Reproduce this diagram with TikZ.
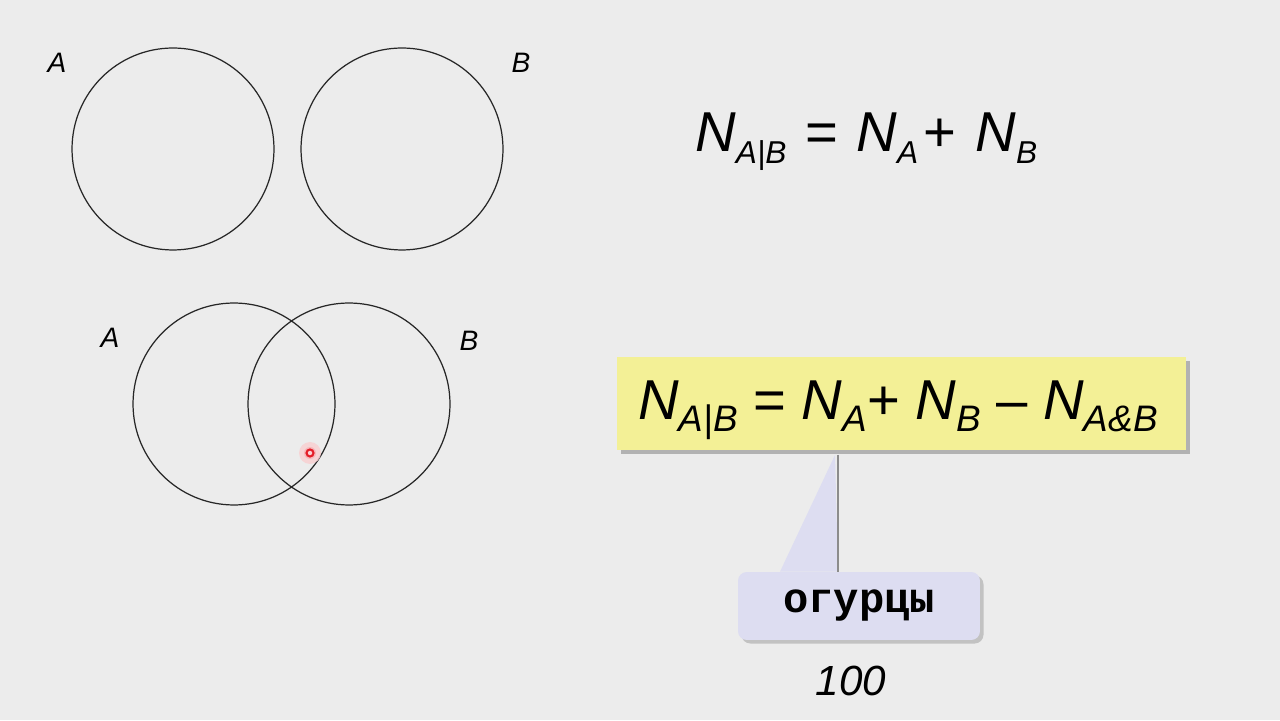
\documentclass[tikz,border=0pt]{standalone}
\usepackage{fontspec}
\setmainfont{Liberation Sans}
\newfontfamily\monofont{Liberation Mono}
\usetikzlibrary{positioning,shadows,calc}
\definecolor{bggray}{RGB}{236,236,236}
\definecolor{noteyellow}{RGB}{243,240,150}
\definecolor{calloutlilac}{RGB}{221,221,241}
\definecolor{dotred}{RGB}{228,30,40}
% N with a lowered italic subscript; optional argument = subscript size in pt
\newcommand{\Nsub}[2][18]{\textit{N}\raisebox{-6.8pt}{\fontsize{#1}{#1}\selectfont\textit{#2}}}
\begin{document}
\begin{tikzpicture}[
    x=0.02cm, y=0.02cm,
    set/.style={draw=black!85, line width=0.7pt},
    setlabel/.style={font=\fontsize{16}{18}\selectfont\itshape, inner sep=0pt},
    formula/.style={font=\fontsize{32}{36}\selectfont, inner sep=0pt},
    note/.style={rectangle, fill=noteyellow, minimum width=11.38cm, minimum height=1.86cm,
        drop shadow={shadow xshift=2.5pt, shadow yshift=-2.5pt, fill=black!45, opacity=0.6}},
    callout/.style={rectangle, fill=calloutlilac, rounded corners=5pt, minimum width=4.84cm, minimum height=1.36cm,
        font=\monofont\bfseries\fontsize{24}{26}\selectfont,
        drop shadow={shadow xshift=2pt, shadow yshift=-2pt, fill=black!35, opacity=0.6}},
]
\useasboundingbox[fill=bggray] (0,0) rectangle (1280,720);

% disjoint sets
\draw[set] (173,571) circle[radius=2.02cm];
\draw[set] (402,571) circle[radius=2.02cm];
\node[setlabel] (la1) at (57,657) {A};
\node[setlabel] (lb1) at (521,657) {B};

% overlapping sets
\draw[set] (234,316) circle[radius=2.02cm];
\draw[set] (349,316) circle[radius=2.02cm];
\node[setlabel] (la2) at (110,382) {A};
\node[setlabel] (lb2) at (469,379) {B};

% pointer dot
\fill[dotred!22, opacity=0.8] (310,267) circle[radius=11];
\fill[dotred!35, opacity=0.8] (310,267) circle[radius=6];
\filldraw[draw=dotred, fill=dotred!20, line width=1.2pt] (310,267) circle[radius=3.5];

% formulas
\node[formula, anchor=base west] (sum) at (695,568)
    {\Nsub{A|B}\hspace{2pt} = \hspace{1.5pt}\Nsub{A}\hspace{3pt}+\hspace{2pt} \Nsub{B}};

\node[note] (box) at (901.5,316.5) {};
\node[formula, anchor=base west] (incl) at (638,300)
    {\Nsub[21]{A|B} = \Nsub[21]{A}+ \Nsub[21]{B} – \Nsub[21]{A\&B}};

% callout
\node[callout] (cuc) at (859,114) {огурцы};
\coordinate (tip) at (835,265);
\fill[calloutlilac] (tip) -- (cuc.north -| 780,0) -- (cuc.north -| 838,0) -- cycle;
\draw[black!45, line width=0.8pt] (tip -| 838,0) -- (cuc.north -| 838,0);
\node[font=\fontsize{24}{26}\selectfont\itshape, below=0.4cm of cuc, xshift=-0.16cm] (count) {100};
\end{tikzpicture}
\end{document}
